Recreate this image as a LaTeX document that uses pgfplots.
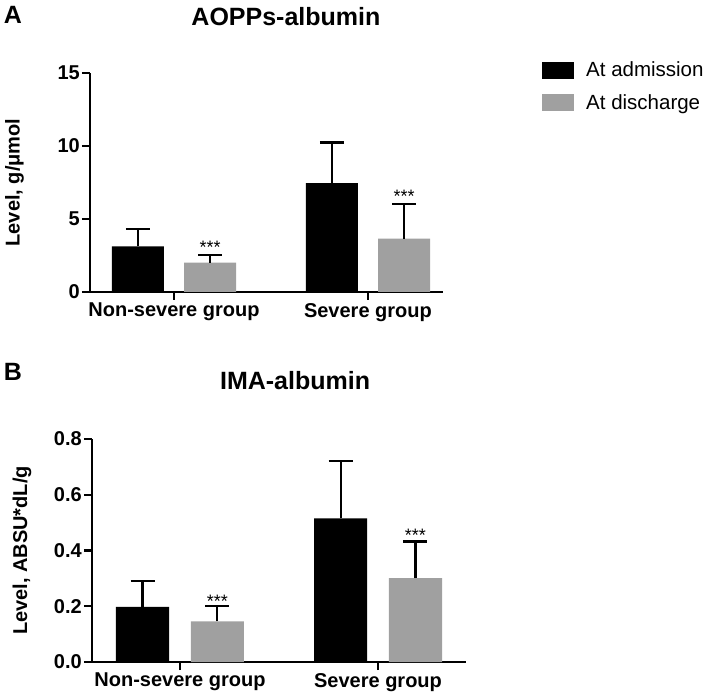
\documentclass[border=0pt]{standalone}
\usepackage{fontspec}
\setmainfont{Liberation Sans}
\usepackage{pgfplots}
\pgfplotsset{compat=1.18}
\definecolor{bargray}{RGB}{160,160,160}
\newcommand{\tickfont}{\bfseries\fontsize{20}{24}\selectfont}
\newcommand{\titlefont}{\bfseries\fontsize{25}{30}\selectfont}
\pgfplotsset{
  myaxis/.style={
    scale only axis,
    axis x line*=bottom,
    axis y line*=left,
    axis line style={-, line width=2.4pt},
    tick style={line width=2.4pt, black},
    major tick length=8pt,
    tick align=outside,
    xtick={0,1},
    xticklabels={Non-severe group, Severe group},
    ticklabel style={font=\tickfont},
    yticklabel style={inner sep=2pt},
    xticklabel style={inner sep=3pt},
    /pgf/number format/assume math mode=true,
    label style={font=\tickfont},
    ymin=0,
    clip=false,
    error bars/y dir=plus,
    error bars/y explicit,
    error bars/error bar style={line width=2.2pt, black},
    error bars/error mark options={line width=2.2pt, mark size=12pt, black, rotate=90},
  },
  bblack/.style={ybar, bar shift=0pt, fill=black, draw=none},
  bgray/.style={ybar, bar shift=0pt, fill=bargray, draw=none},
}
\begin{document}
\begin{tikzpicture}
\useasboundingbox (0pt,0pt) rectangle (710pt,694pt);
% Panel A
\begin{axis}[myaxis,
  at={(90pt,402pt)}, anchor=south west,
  width=353pt, height=219pt,
  xmin=-0.433, xmax=1.387,
  ymax=15, ytick={0,5,10,15},
  bar width=0.268,
  ylabel={Level, g/μmol},
  ylabel style={at={(rel axis cs:-0.214,0.5)}, anchor=center},
  legend style={at={(1.272,1.07)}, anchor=north west, draw=none,
    font=\fontsize{20.5}{24}\selectfont, row sep=12pt, column sep=10pt,
    nodes={inner sep=2pt}},
  legend cell align=left,
]
\addplot[bblack, legend image code/.code={\fill[black] (0pt,-8.5pt) rectangle (32pt,8.5pt);}]
  coordinates {(-0.186,3.13) +- (0,1.19) (0.814,7.45) +- (0,2.79)};
\addlegendentry{At admission}
\addplot[bgray, legend image code/.code={\fill[bargray] (0pt,-8.5pt) rectangle (32pt,8.5pt);}]
  coordinates {(0.186,2.01) +- (0,0.51) (1.186,3.66) +- (0,2.38)};
\addlegendentry{At discharge}
\node[font=\fontsize{18}{20}\selectfont, anchor=center, yshift=-4pt] at (axis cs:0.186,3.36) {***};
\node[font=\fontsize{18}{20}\selectfont, anchor=center, yshift=-4pt] at (axis cs:1.186,6.81) {***};
\node[font=\titlefont, anchor=center] at (rel axis cs:0.555,1.256) {AOPPs-albumin};
\end{axis}
% Panel B
\begin{axis}[myaxis,
  at={(92pt,32pt)}, anchor=south west,
  width=374pt, height=223pt,
  xmin=-0.444, xmax=1.444,
  ymax=0.8, ytick={0,0.2,0.4,0.6,0.8},
  yticklabel style={/pgf/number format/.cd, fixed, fixed zerofill, precision=1},
  bar width=0.268,
  ylabel={Level, ABSU*dL/g},
  ylabel style={at={(rel axis cs:-0.187,0.5)}, anchor=center},
]
\addplot[bblack] coordinates {(-0.189,0.198) +- (0,0.092) (0.811,0.515) +- (0,0.207)};
\addplot[bgray] coordinates {(0.189,0.146) +- (0,0.054) (1.189,0.301) +- (0,0.131)};
\node[font=\fontsize{18}{20}\selectfont, anchor=center, yshift=-4pt] at (axis cs:0.189,0.233) {***};
\node[font=\fontsize{18}{20}\selectfont, anchor=center, yshift=-4pt] at (axis cs:1.189,0.470) {***};
\node[font=\titlefont, anchor=center] at (rel axis cs:0.543,1.26) {IMA-albumin};
\end{axis}
\node[font=\bfseries\fontsize{25}{30}\selectfont] at (13pt,679pt) {A};
\node[font=\bfseries\fontsize{25}{30}\selectfont] at (13pt,322pt) {B};
\end{tikzpicture}
\end{document}
